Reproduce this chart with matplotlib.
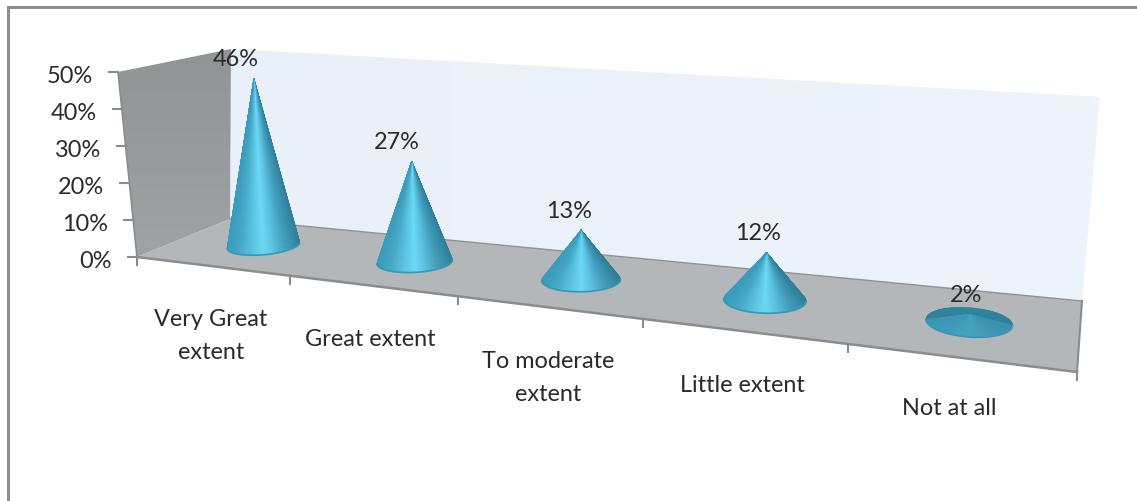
import numpy as np
import matplotlib
matplotlib.use("Agg")
import matplotlib.pyplot as plt
from matplotlib.collections import PolyCollection
from matplotlib.colors import to_rgb, LinearSegmentedColormap
from matplotlib.patches import Polygon

plt.rcParams['font.family'] = ['Lato', 'DejaVu Sans']

categories = ["Very Great\nextent", "Great extent", "To moderate\nextent", "Little extent", "Not at all"]
values = [46, 27, 13, 12, 2]
y_ticks = [0, 10, 20, 30, 40, 50]

# where each category label sits, staggered the way the chart lays them out
label_x = [211, 370, 548, 742, 949]
label_y = [336, 340, 378, 386, 409]

TEXT = "#2a2a2a"
EDGE = "#8c8c8c"
FONT = 16.9

# corners of the 3d box, in pixels
FRONT_L = (137, 258)
FRONT_R = (1077, 373)
BACK_L = (230, 220)
BACK_R = (1082, 302)
TOP_FRONT_L = (118, 73)
TOP_BACK_L = (231, 50)
TOP_BACK_R = (1100, 98)


def front_x(u):
    # perspective squeeze along the category axis
    return (137 + 140.2 * u) / (1 - 0.0444 * u)


def front_y(x):
    return FRONT_L[1] + (x - FRONT_L[0]) * (FRONT_R[1] - FRONT_L[1]) / (FRONT_R[0] - FRONT_L[0])


def back_x(u):
    return BACK_L[0] + (front_x(u) - FRONT_L[0]) * (BACK_R[0] - BACK_L[0]) / (FRONT_R[0] - FRONT_L[0])


def back_y(x):
    return BACK_L[1] + (x - BACK_L[0]) * (BACK_R[1] - BACK_L[1]) / (BACK_R[0] - BACK_L[0])


def floor_point(u):
    fx, bx = front_x(u), back_x(u)
    x = fx + 0.6 * (bx - fx)
    y = front_y(fx) + 0.55 * (back_y(bx) - front_y(fx)) + 1.5
    return x, y


def mix(a, b, t):
    a, b = np.array(to_rgb(a)), np.array(to_rgb(b))
    return tuple(a + (b - a) * t)


def side_colour(c, flatness):
    # c runs 1 (right edge) to -1 (left edge) round the cone
    stops_x = [-1.0, -0.65, -0.3, 0.0, 0.25, 0.6, 0.85, 1.0]
    stops = ["#3a9cba", "#45a9c7", "#5bc4e2", "#6cdaf6", "#5cc4e2", "#429fbd", "#358ea9", "#2f7f98"]
    s = np.interp(c, stops_x, range(len(stops)))
    i = min(int(s), len(stops) - 2)
    col = mix(stops[i], stops[i + 1], s - i)
    return mix(col, "#3c96b3", flatness)


def draw_cone(ax, u, value):
    cx, cy = floor_point(u)
    rx = 33.6 + 0.01 * cx
    ry = 7.5 + 0.0074 * cx
    tilt = -0.14 + 0.000216 * cx
    scale = 3.54 + 0.62 * (cx - 137) / 940
    height = value * scale
    lean = -0.08 + 0.17 * (cx - 137) / 945
    apex = (cx + lean * height, cy - height)

    flatness = 1 - min(value / 10, 1)
    n = 180
    t = np.linspace(0, 2 * np.pi, n + 1)
    px = cx + rx * np.cos(t)
    py = cy + ry * np.sin(t) + tilt * rx * np.cos(t)

    back, back_cols, front, front_cols = [], [], [], []
    for i in range(n):
        tri = [apex, (px[i], py[i]), (px[i + 1], py[i + 1])]
        mid = (t[i] + t[i + 1]) / 2
        col = side_colour(np.cos(mid), flatness)
        if mid > np.pi:
            # far side only shows on a nearly flat cone, where it reads darker
            back.append(tri)
            back_cols.append(mix(col, "#2b7d98", flatness))
        else:
            front.append(tri)
            front_cols.append(col)
    for tris, cols in ((back, back_cols), (front, front_cols)):
        ax.add_collection(PolyCollection(tris, facecolors=cols, edgecolors=cols, linewidths=0.4, zorder=4))
    # thin rim round the near side of the base
    ax.plot(px[:n // 2 + 1], py[:n // 2 + 1], color="#3698b5", lw=1.2, zorder=5, solid_capstyle="round")
    return apex


def gradient_poly(ax, corners, c0, c1, vertical=True):
    # fill a polygon with a two colour gradient, clipped to its outline
    cmap = LinearSegmentedColormap.from_list("wall", [c0, c1])
    xs, ys = zip(*corners)
    grad = np.linspace(0, 1, 64)
    grad = grad[:, None] if vertical else grad[None, :]
    im = ax.imshow(grad, cmap=cmap, extent=(min(xs), max(xs), max(ys), min(ys)),
                   aspect="auto", zorder=2, interpolation="bilinear")
    im.set_clip_path(Polygon(corners, transform=ax.transData))


fig = plt.figure(figsize=(11.37, 5.02), dpi=100)
ax = fig.add_axes([0, 0, 1, 1])

# outer chart border
ax.plot([8.3, 8.3, 1137], [502, 8.3, 8.3], color="#8e8e8e", lw=2.2, solid_joinstyle="miter", zorder=1)

# walls and floor
gradient_poly(ax, [TOP_BACK_L, TOP_BACK_R, BACK_R, BACK_L], "#e9f0f7", "#edf4fb", vertical=False)
gradient_poly(ax, [TOP_FRONT_L, TOP_BACK_L, BACK_L, FRONT_L], "#909495", "#a0a3a5")
ax.fill(*zip(FRONT_L, BACK_L, BACK_R, FRONT_R), color="#b3b7ba", lw=0, zorder=2)
ax.plot(*zip(BACK_L, BACK_R), color="#8f9396", lw=1.0, zorder=3)
ax.plot(*zip(BACK_R, FRONT_R), color=EDGE, lw=1.5, zorder=3)
ax.plot(*zip(FRONT_L, FRONT_R), color=EDGE, lw=1.8, zorder=3)
ax.plot(*zip(FRONT_L, TOP_FRONT_L), color=EDGE, lw=1.2, zorder=3)

# value axis ticks, the labels follow the slant of the axis
for v in y_ticks:
    f = v / y_ticks[-1]
    x = FRONT_L[0] + f * (TOP_FRONT_L[0] - FRONT_L[0])
    y = FRONT_L[1] + f * (TOP_FRONT_L[1] - FRONT_L[1])
    ax.plot([x - 9, x], [y, y], color=EDGE, lw=1.5, zorder=3)
    ax.text(x - 25, y + 3.5, f"{v}%", ha="right", va="center", fontsize=FONT, color=TEXT, zorder=6)

# category axis ticks
for u in range(len(categories) + 1):
    x = front_x(u)
    y = front_y(x)
    ax.plot([x, x], [y, y + 8], color=EDGE, lw=1.5, zorder=3)

for name, lx, ly in zip(categories, label_x, label_y):
    ax.text(lx, ly, name, ha="center", va="center", fontsize=FONT, color=TEXT, linespacing=1.68, zorder=6)

for i, v in enumerate(values):
    apex = draw_cone(ax, i + 0.5, v)
    dx = -18 + 14 * (apex[0] - 252) / 718
    ax.text(apex[0] + dx, apex[1] - 20, f"{v}%", ha="center", va="center", fontsize=FONT, color=TEXT, zorder=6)

ax.set_xlim(0, 1137)
ax.set_ylim(502, 0)
ax.set_aspect("auto")
ax.axis("off")

fig.savefig("out.png", dpi=100)
